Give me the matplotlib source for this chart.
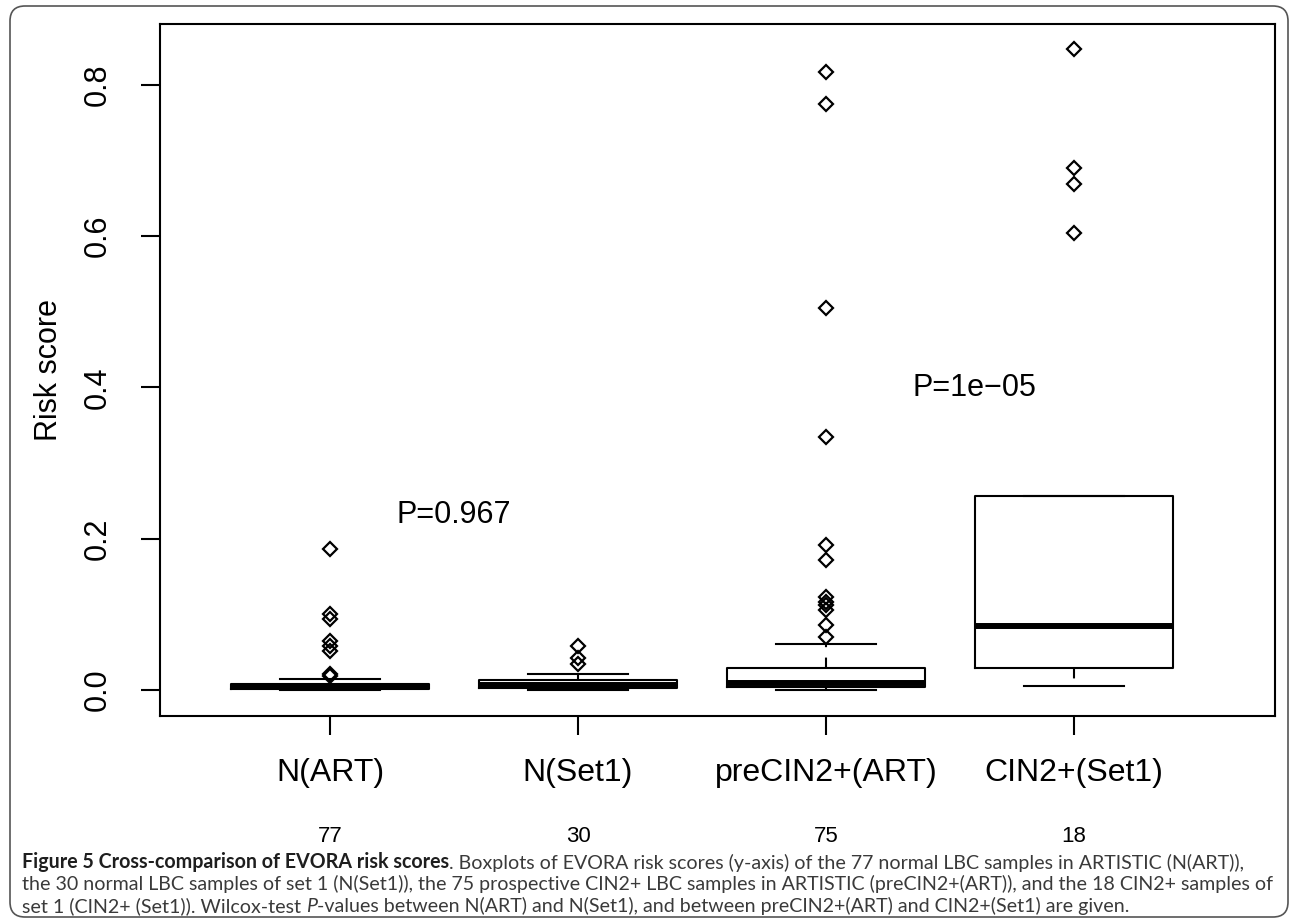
import numpy as np
import matplotlib.pyplot as plt
from matplotlib.patches import FancyBboxPatch

plt.rcParams['font.family'] = ['Liberation Sans', 'DejaVu Sans']

# groups and sample sizes
groups = ['N(ART)', 'N(Set1)', 'preCIN2+(ART)', 'CIN2+(Set1)']
counts = [77, 30, 75, 18]

# box summaries
whislo = [0.0005, 0.000, 0.000, 0.005]
q1 = [0.002, 0.003, 0.004, 0.029]
med = [0.005, 0.006, 0.009, 0.085]
q3 = [0.008, 0.0135, 0.029, 0.257]
whishi = [0.0145, 0.021, 0.061, 0.257]

outliers = [
    [0.186, 0.100, 0.094, 0.065, 0.058, 0.051, 0.021, 0.019],
    [0.058, 0.042, 0.035],
    [0.816, 0.774, 0.505, 0.334, 0.192, 0.172, 0.123, 0.116, 0.112, 0.106, 0.086, 0.070],
    [0.847, 0.690, 0.668, 0.604],
]

pval_text = ['P=0.967', 'P=1e\u221205']
pval_x = [1.5, 3.6]
pval_y = [0.231, 0.399]

fig = plt.figure(figsize=(12.9, 9.22), dpi=100)
ax = fig.add_axes([160/1290, 1 - 716/922, (1275-160)/1290, (716-24)/922])

pos = np.arange(1, len(groups) + 1)
stats = []
for i in range(len(groups)):
    stats.append(dict(med=med[i], q1=q1[i], q3=q3[i], whislo=whislo[i],
                      whishi=whishi[i], fliers=outliers[i]))

ax.bxp(stats, positions=pos, widths=0.8, capwidths=0.4, showfliers=True,
       boxprops=dict(color='black', linewidth=1.5),
       medianprops=dict(color='black', linewidth=4.3, solid_capstyle='butt'),
       whiskerprops=dict(color='black', linewidth=1.5, linestyle=(0, (5, 5))),
       capprops=dict(color='black', linewidth=1.5),
       flierprops=dict(marker='D', markerfacecolor='none', markeredgecolor='black',
                       markersize=7.5, markeredgewidth=1.6))

ax.set_xlim(0.3145, 4.81)
ax.set_ylim(-0.0343, 0.880)

for s in ax.spines.values():
    s.set_linewidth(1.5)

ax.set_yticks([0.0, 0.2, 0.4, 0.6, 0.8])
ax.set_yticklabels(['0.0', '0.2', '0.4', '0.6', '0.8'], rotation=90, va='center')
ax.set_xticks(pos)
ax.set_xticklabels(groups)
ax.tick_params(axis='both', direction='out', length=14, width=1.5, labelsize=22)
ax.tick_params(axis='x', labelsize=23, pad=16)
ax.tick_params(axis='y', pad=20)

for p, n in zip(pos, counts):
    ax.annotate(str(n), xy=(p, 0), xycoords=('data', 'axes fraction'),
                xytext=(0, -87), textcoords='offset points',
                ha='center', va='center', fontsize=16, annotation_clip=False)

ax.set_ylabel('Risk score', fontsize=22)
ax.yaxis.set_label_coords(-0.086, 0.5)

for t, x, y in zip(pval_text, pval_x, pval_y):
    ax.text(x, y, t, ha='center', va='center', fontsize=22)

# page frame around figure
frame = FancyBboxPatch((0.10, 0.05), 12.78, 9.11,
                       boxstyle='round,pad=0,rounding_size=0.15',
                       transform=fig.dpi_scale_trans, fill=False,
                       edgecolor='#555555', linewidth=1.2, clip_on=False)
fig.add_artist(frame)

# caption, pieces set one after another
cap_font = ['Lato', 'DejaVu Sans']
cap_size = 12
lines = [
    [('Figure 5 Cross-comparison of EVORA risk scores', dict(weight='bold', color='#1e1e1e')),
     ('. Boxplots of EVORA risk scores (y-axis) of the 77 normal LBC samples in ARTISTIC (N(ART)),', dict(color='#3a3a3a'))],
    [('the 30 normal LBC samples of set 1 (N(Set1)), the 75 prospective CIN2+ LBC samples in ARTISTIC (preCIN2+(ART)), and the 18 CIN2+ samples of', dict(color='#3a3a3a'))],
    [('set 1 (CIN2+ (Set1)). Wilcox-test ', dict(color='#3a3a3a')),
     ('P', dict(style='italic', color='#3a3a3a')),
     ('-values between N(ART) and N(Set1), and between preCIN2+(ART) and CIN2+(Set1) are given.', dict(color='#3a3a3a'))],
]
baselines = [868, 890, 912]
cap_texts = []
line_ends = []
for parts, yb in zip(lines, baselines):
    prev = None
    first = None
    for txt, kw in parts:
        if prev is None:
            prev = fig.text(22/1290, 1 - yb/922, txt, ha='left', va='baseline',
                            family=cap_font, fontsize=cap_size, **kw)
            first = prev
        else:
            prev = ax.annotate(txt, xy=(1, 0), xycoords=prev, ha='left', va='bottom',
                               family=cap_font, fontsize=cap_size, annotation_clip=False, **kw)
        cap_texts.append(prev)
    line_ends.append((first, prev))

# scale caption so the widest line spans the page width like the original
fig.canvas.draw()
r = fig.canvas.get_renderer()
widest = max(b.get_window_extent(r).x1 - a.get_window_extent(r).x0 for a, b in line_ends)
scale = (1272 - 22) / widest
for t in cap_texts:
    t.set_fontsize(cap_size * scale)

fig.savefig('out.png', dpi=100)
